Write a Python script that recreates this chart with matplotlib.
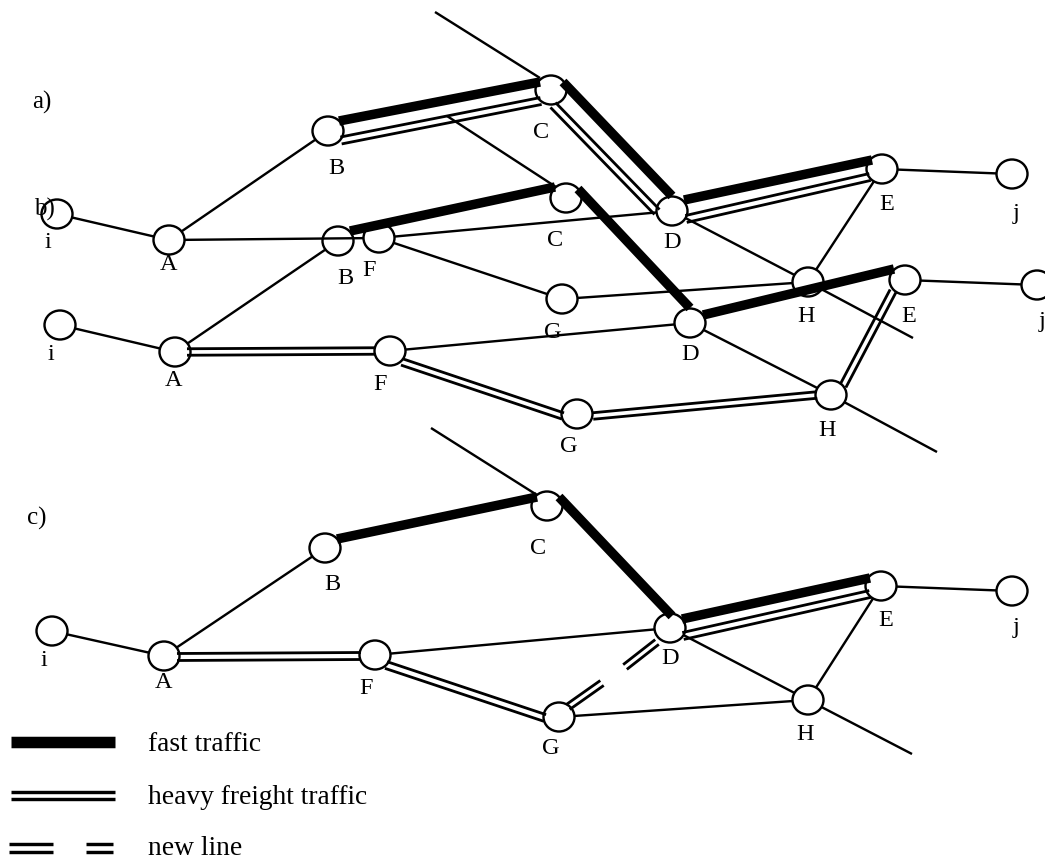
import numpy as np
import matplotlib
matplotlib.use('Agg')
import matplotlib.pyplot as plt
from matplotlib.patches import Ellipse

plt.rcParams['font.family'] = ['Liberation Serif', 'DejaVu Serif']

# node centres (pixels)
nodes_a = dict(i=(57, 214), A=(169, 240), B=(328, 131), C=(551, 90), D=(672, 211), E=(882, 169),
               j=(1012, 174), F=(379, 238), G=(562, 299), H=(808, 282))
nodes_b = dict(i=(60, 325), A=(175, 352), B=(338, 241), C=(566, 198), D=(690, 323), E=(905, 280),
               j=(1037, 285), F=(390, 351), G=(577, 414), H=(831, 395))
nodes_c = dict(i=(52, 631), A=(164, 656), B=(325, 548), C=(547, 506), D=(670, 628), E=(881, 586),
               j=(1012, 591), F=(375, 655), G=(559, 717), H=(808, 700))

# letter positions
labels_a = dict(i=(48, 242), A=(169, 265), B=(336, 168), C=(541, 132), D=(672, 242), E=(887, 204),
                j=(1016, 213), F=(369, 270), G=(553, 332), H=(806, 316))
labels_b = dict(i=(51, 355), A=(174, 380), B=(345, 279), C=(555, 241), D=(690, 354), E=(909, 316),
                j=(1042, 322), F=(380, 385), G=(569, 446), H=(827, 431))
labels_c = dict(i=(44, 660), A=(164, 682), B=(332, 585), C=(538, 548), D=(670, 658), E=(886, 621),
                j=(1016, 628), F=(366, 688), G=(551, 748), H=(805, 735))

thin_a = ['iA', 'AB', 'AF', 'FD', 'FG', 'GH', 'DH', 'HE', 'Ej']
thin_b = ['iA', 'AB', 'FD', 'DH', 'Ej']
thin_c = ['iA', 'AB', 'FD', 'GH', 'DH', 'HE', 'Ej']

# the two stubs leaving the network in each panel
stubs_a = [((435, 12), (540, 78)), ((808, 282), (913, 338))]
stubs_b = [((447, 116), (556, 187)), ((831, 395), (937, 452))]
stubs_c = [((431, 428), (537, 495)), ((808, 700), (912, 754))]

fast_a = [((339, 121), (540, 82)), ((563, 82), (672, 196)), ((684, 200), (872, 160))]
fast_b = [((350, 231), (555, 187)), ((578, 189), (690, 308)), ((703, 315), (894, 269))]
fast_c = [((337, 539), (537, 497)), ((559, 497), (672, 616)), ((682, 619), (870, 578))]

heavy_a = [((341, 140.5), (541, 101)), ((553, 105), (657, 212)), ((686, 219), (870, 177))]
heavy_b = [((187, 352), (375, 351)), ((402, 362), (563, 416)), ((593, 416), (817, 395)), ((843, 386), (893, 291))]
heavy_c = [((177, 657), (361, 656)), ((386, 665), (545, 718)), ((683, 636), (870, 594))]
new_c = [((568, 707), (602, 683)), ((625, 667), (657, 642))]

panel_names = ['a)', 'b)', 'c)']
panel_pos = [(42, 102), (44, 209), (37, 518)]
legend_names = ['fast traffic', 'heavy freight traffic', 'new line']
legend_y = [742, 795.5, 848]
legend_baseline = [751, 804, 855]

PX = 0.72  # points per pixel at dpi 100
THIN = 2.4
FAST = 9.5
TEXT_SIZE = 17.5

fig = plt.figure(figsize=(10.45, 8.59), dpi=100)
ax = fig.add_axes([0, 0, 1, 1])
ax.set_xlim(0, 1045)
ax.set_ylim(859, 0)
ax.axis('off')


def line(p, q, w, z):
    ax.plot([p[0], q[0]], [p[1], q[1]], color='black', lw=w * PX, solid_capstyle='butt', zorder=z)


def double(p, q, z, sep=6.5, w=2.8):
    p, q = np.array(p, float), np.array(q, float)
    n = np.array([q[1] - p[1], p[0] - q[0]])
    n = n / np.hypot(*n) * sep / 2
    line(p + n, q + n, w, z)
    line(p - n, q - n, w, z)


def draw_nodes(nodes, z):
    for x, y in nodes.values():
        ax.add_patch(Ellipse((x, y), 31, 29, fc='white', ec='black', lw=THIN * PX, zorder=z))


def draw_labels(labels):
    for name, (x, y) in labels.items():
        ax.text(x, y, name, fontsize=TEXT_SIZE, ha='center', va='center', zorder=10)


# panel b sits partly under panel a, but its fast lines run on top
for pair in thin_b:
    line(nodes_b[pair[0]], nodes_b[pair[1]], THIN, 1)
for p, q in stubs_b:
    line(p, q, THIN, 1)
draw_nodes(nodes_b, 2)

for pair in thin_a:
    line(nodes_a[pair[0]], nodes_a[pair[1]], THIN, 3)
for p, q in stubs_a:
    line(p, q, THIN, 3)
draw_nodes(nodes_a, 4)
for seg in fast_a:
    line(seg[0], seg[1], FAST, 5)
for seg in heavy_a:
    double(seg[0], seg[1], 5, sep=7)

for seg in fast_b:
    line(seg[0], seg[1], FAST, 6)
for seg in heavy_b:
    double(seg[0], seg[1], 6)

for pair in thin_c:
    line(nodes_c[pair[0]], nodes_c[pair[1]], THIN, 1)
for p, q in stubs_c:
    line(p, q, THIN, 1)
draw_nodes(nodes_c, 2)
for seg in fast_c:
    line(seg[0], seg[1], FAST, 3)
for seg in heavy_c:
    double(seg[0], seg[1], 3, sep=7)
for seg in new_c:
    double(seg[0], seg[1], 3, sep=6)

for labels in (labels_a, labels_b, labels_c):
    draw_labels(labels)

for name, (x, y) in zip(panel_names, panel_pos):
    ax.text(x, y, name, fontsize=18, ha='center', va='center', zorder=10)

# legend
line((11, legend_y[0]), (115, legend_y[0]), 11.5, 3)
double((11, legend_y[1]), (115, legend_y[1]), 3, sep=7.3, w=3.4)
double((9, legend_y[2]), (53, legend_y[2]), 3, sep=7.7, w=3.4)
double((86, legend_y[2]), (113, legend_y[2]), 3, sep=7.7, w=3.4)
for name, y in zip(legend_names, legend_baseline):
    ax.text(148, y, name, fontsize=19.8, ha='left', va='baseline')

fig.savefig('out.png', dpi=100)
